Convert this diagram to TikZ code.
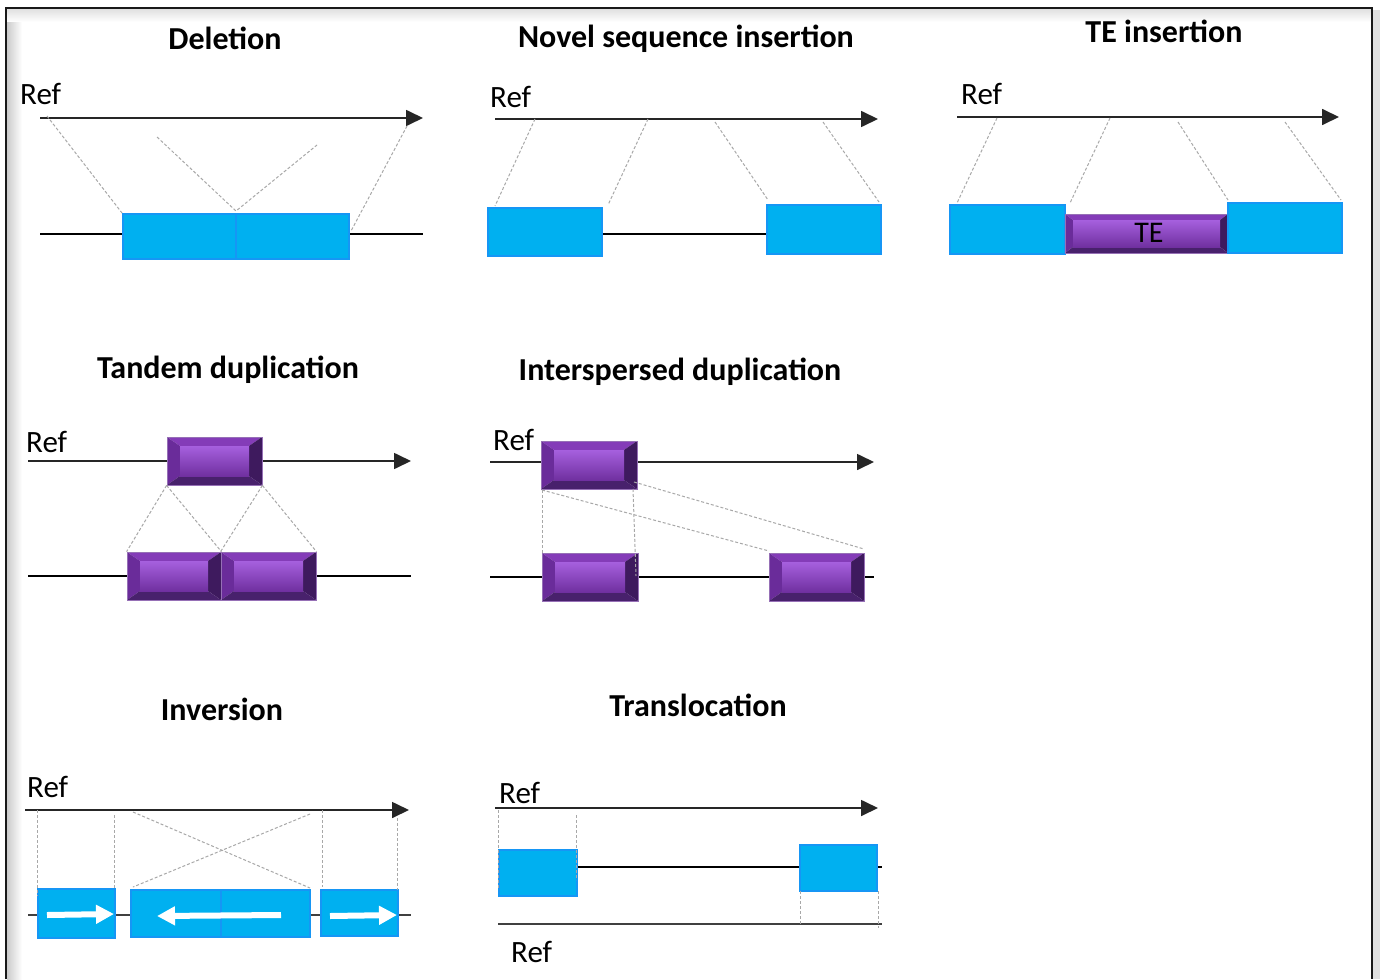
\documentclass[tikz,border=0pt]{standalone}
\usepackage{fontspec}
\setmainfont{Carlito}
\usetikzlibrary{arrows.meta}

\definecolor{boxblue}{RGB}{0,176,240}
\definecolor{boxedge}{RGB}{22,150,245}
\definecolor{dashgray}{RGB}{168,168,168}
\definecolor{bvtop}{RGB}{132,60,184}
\definecolor{bvleft}{RGB}{106,44,154}
\definecolor{bvright}{RGB}{62,26,94}
\definecolor{bvbottom}{RGB}{72,33,108}
\definecolor{bvhi}{RGB}{166,96,222}
\definecolor{bvmid}{RGB}{124,54,176}
\definecolor{bvlow}{RGB}{112,48,160}
\definecolor{bvedge}{RGB}{150,112,182}

\tikzset{
  title/.style={font=\fontsize{32}{38}\selectfont\bfseries, anchor=base, inner sep=0pt},
  reflabel/.style={font=\fontsize{31}{37}\selectfont, anchor=base west, inner sep=0pt},
  refline/.style={draw=black!85, line width=1.7pt, -{Triangle[length=17pt,width=16pt]}},
  seqline/.style={draw=black, line width=1.4pt},
  guide/.style={draw=dashgray, line width=1pt, dash pattern=on 3pt off 2pt},
  bluebox/.style={rectangle, inner sep=0pt, fill=boxblue, draw=boxedge, line width=1.8pt},
  whitearrow/.style={draw=white, line width=6pt, -{Triangle[length=18pt,width=18pt]}},
  bevelbox/.style 2 args={rectangle, inner sep=0pt, draw=bvedge, line width=0.8pt,
    path picture={
      \fill[bvtop] (path picture bounding box.north west) -- (path picture bounding box.north east)
        -- ([shift={(-#1pt,-#2pt)}]path picture bounding box.north east)
        -- ([shift={(#1pt,-#2pt)}]path picture bounding box.north west) -- cycle;
      \fill[bvleft] (path picture bounding box.north west)
        -- ([shift={(#1pt,-#2pt)}]path picture bounding box.north west)
        -- ([shift={(#1pt,#2pt)}]path picture bounding box.south west)
        -- (path picture bounding box.south west) -- cycle;
      \fill[bvright] (path picture bounding box.north east)
        -- ([shift={(-#1pt,-#2pt)}]path picture bounding box.north east)
        -- ([shift={(-#1pt,#2pt)}]path picture bounding box.south east)
        -- (path picture bounding box.south east) -- cycle;
      \fill[bvbottom] (path picture bounding box.south west)
        -- ([shift={(#1pt,#2pt)}]path picture bounding box.south west)
        -- ([shift={(-#1pt,#2pt)}]path picture bounding box.south east)
        -- (path picture bounding box.south east) -- cycle;
      \shade[top color=bvhi, middle color=bvmid, bottom color=bvlow]
        ([shift={(#1pt,-#2pt)}]path picture bounding box.north west)
        rectangle ([shift={(-#1pt,#2pt)}]path picture bounding box.south east);
    }},
}

\begin{document}
\begin{tikzpicture}[x=1pt,y=-1pt]
\useasboundingbox (0,0) rectangle (1380,979);
\fill[white] (0,0) rectangle (1380,979);

% frame with soft inner shadow
\fill[black!12] (1373,10) rectangle (1380,979);
\shade[left color=black!20, right color=white] (7,9) rectangle (22,979);
\shade[top color=black!12, bottom color=white] (7,9) rectangle (1371,22);
\draw[line width=2.6pt, black!90] (6,979) -- (6,8) -- (1372,8) -- (1372,979);

% ---------------- Deletion ----------------
\node[title] (tdel) at (225,50) {Deletion};
\node[reflabel] (rdel) at (20,105) {Ref};
\coordinate (dA) at (40,118); \coordinate (dB) at (423,118);
\coordinate (dL) at (40,234); \coordinate (dR) at (423,234);
\draw[refline] (dA) -- (dB);
\draw[seqline] (dL) -- (dR);
\node[bluebox, minimum width=113pt, minimum height=45pt] (d1) at (179.5,236.5) {};
\node[bluebox, minimum width=113pt, minimum height=45pt] (d2) at (292.5,236.5) {};
\coordinate (dq1) at (47,116); \coordinate (dq2) at (157,137);
\coordinate (dq3) at (317,145); \coordinate (dq4) at (407,126);
\coordinate (dm) at (236,211); \coordinate (dq5) at (351,231);
\draw[guide] (dq1) -- (d1.north west);
\draw[guide] (dq2) -- (dm) -- (dq3);
\draw[guide] (dq4) -- (dq5);

% ---------------- Novel sequence insertion ----------------
\node[title] (tnov) at (686,48) {Novel sequence insertion};
\node[reflabel] (rnov) at (490,108) {Ref};
\coordinate (nA) at (495,119); \coordinate (nB) at (878,119);
\coordinate (nL) at (602,234); \coordinate (nR) at (767,234);
\draw[refline] (nA) -- (nB);
\draw[seqline] (nL) -- (nR);
\node[bluebox, minimum width=114pt, minimum height=48pt] (n1) at (545,232) {};
\node[bluebox, minimum width=114pt, minimum height=49pt] (n2) at (824,229.5) {};
\coordinate (na1) at (535,119); \coordinate (nb1) at (495,206);
\coordinate (na2) at (648,119); \coordinate (nb2) at (608,205);
\coordinate (na3) at (715,122); \coordinate (nb3) at (768,200);
\coordinate (na4) at (823,122); \coordinate (nb4) at (879,202);
\draw[guide] (na1) -- (nb1);
\draw[guide] (na2) -- (nb2);
\draw[guide] (na3) -- (nb3);
\draw[guide] (na4) -- (nb4);

% ---------------- TE insertion ----------------
\node[title] (tte) at (1164,43) {TE insertion};
\node[reflabel] (rte) at (961,105) {Ref};
\coordinate (tA) at (957,117); \coordinate (tB) at (1339,117);
\draw[refline] (tA) -- (tB);
\node[bluebox, minimum width=115pt, minimum height=49pt] (t1) at (1007.5,229.5) {};
\node[bevelbox={8}{6}, minimum width=163pt, minimum height=39pt] (te) at (1146.5,233.5) {};
\node[bluebox, minimum width=114pt, minimum height=50pt] (t2) at (1285,228) {};
\node[font=\fontsize{30}{36}\selectfont, anchor=base, inner sep=0pt] (tel) at (1149,242) {TE};
\coordinate (ta1) at (997,118); \coordinate (tb1) at (957,203);
\coordinate (ta2) at (1110,118); \coordinate (tb2) at (1070,203);
\coordinate (ta3) at (1178,122); \coordinate (tb3) at (1228,200);
\coordinate (ta4) at (1285,122); \coordinate (tb4) at (1341,200);
\draw[guide] (ta1) -- (tb1);
\draw[guide] (ta2) -- (tb2);
\draw[guide] (ta3) -- (tb3);
\draw[guide] (ta4) -- (tb4);

% ---------------- Tandem duplication ----------------
\node[title] (ttan) at (228,378) {Tandem duplication};
\node[reflabel] (rtan) at (26,452) {Ref};
\coordinate (uA) at (28,461); \coordinate (uB) at (411,461);
\coordinate (uL) at (28,576); \coordinate (uR) at (411,576);
\draw[refline] (uA) -- (uB);
\draw[seqline] (uL) -- (uR);
\node[bevelbox={13}{9}, minimum width=95pt, minimum height=48pt] (td0) at (214.5,461) {};
\node[bevelbox={13}{9}, minimum width=94pt, minimum height=48pt] (td1) at (174,576) {};
\node[bevelbox={13}{9}, minimum width=95pt, minimum height=48pt] (td2) at (268.5,576) {};
\draw[guide] (td0.south west) -- (td1.north west);
\draw[guide] (td0.south west) -- (td1.north east);
\draw[guide] (td0.south east) -- (td2.north west);
\draw[guide] (td0.south east) -- (td2.north east);

% ---------------- Interspersed duplication ----------------
\node[title] (tint) at (680,380) {Interspersed duplication};
\node[reflabel] (rint) at (493,450) {Ref};
\coordinate (iA) at (490,462); \coordinate (iB) at (874,462);
\coordinate (iL) at (490,577); \coordinate (iR) at (874,577);
\draw[refline] (iA) -- (iB);
\draw[seqline] (iL) -- (iR);
\node[bevelbox={13}{9}, minimum width=96pt, minimum height=48pt] (id0) at (589,465) {};
\node[bevelbox={13}{9}, minimum width=96pt, minimum height=48pt] (id1) at (590,577) {};
\node[bevelbox={13}{9}, minimum width=95pt, minimum height=48pt] (id2) at (816.5,577) {};
\coordinate (ia1) at (542,490); \coordinate (ib1) at (542,553);
\coordinate (ia2) at (633,489); \coordinate (ib2) at (636,576);
\coordinate (ib3) at (769,551);
\coordinate (ia4) at (634,482); \coordinate (ib4) at (864,549);
\draw[guide] (ia1) -- (ib1);
\draw[guide] (ia2) -- (ib2);
\draw[guide] (ia1) -- (ib3);
\draw[guide] (ia4) -- (ib4);

% ---------------- Inversion ----------------
\node[title] (tinv) at (222,720) {Inversion};
\node[reflabel] (rinv) at (27,797) {Ref};
\coordinate (vA) at (25,810); \coordinate (vB) at (409,810);
\coordinate (vL) at (28,915); \coordinate (vR) at (411,915);
\draw[refline] (vA) -- (vB);
\draw[seqline, line width=1.2pt, black!75] (vL) -- (vR);
\node[bluebox, minimum width=77pt, minimum height=49pt] (v1) at (76.5,913.5) {};
\node[bluebox, minimum width=90pt, minimum height=47pt] (v2) at (176,913.5) {};
\node[bluebox, minimum width=89pt, minimum height=47pt] (v3) at (265.5,913.5) {};
\node[bluebox, minimum width=77pt, minimum height=46pt] (v4) at (359.5,913) {};
\coordinate (wa1) at (47,915); \coordinate (wb1) at (114,914);
\coordinate (wa2) at (281,915); \coordinate (wb2) at (157,916);
\coordinate (wa3) at (330,916); \coordinate (wb3) at (397,915);
\draw[whitearrow] (wa1) -- (wb1);
\draw[whitearrow] (wa2) -- (wb2);
\draw[whitearrow] (wa3) -- (wb3);
\coordinate (va1) at (37,810); \coordinate (vb1) at (37,896);
\coordinate (va2) at (114,815); \coordinate (vb2) at (114,889);
\coordinate (va3) at (133,812); \coordinate (vb3) at (310,888);
\coordinate (va4) at (310,814); \coordinate (vb4) at (133,887);
\coordinate (va5) at (322,810); \coordinate (vb5) at (322,887);
\coordinate (va6) at (397,818); \coordinate (vb6) at (397,890);
\draw[guide] (va1) -- (vb1);
\draw[guide] (va2) -- (vb2);
\draw[guide] (va3) -- (vb3);
\draw[guide] (va4) -- (vb4);
\draw[guide] (va5) -- (vb5);
\draw[guide] (va6) -- (vb6);

% ---------------- Translocation ----------------
\node[title] (ttra) at (698,716) {Translocation};
\node[reflabel] (rtra1) at (499,803) {Ref};
\node[reflabel] (rtra2) at (511,962) {Ref};
\coordinate (rA) at (495,808); \coordinate (rB) at (878,808);
\coordinate (rM) at (882,867);
\coordinate (rL) at (498,924); \coordinate (rR) at (882,924);
\draw[refline] (rA) -- (rB);
\draw[seqline, line width=1.2pt, black!75] (rL) -- (rR);
\node[bluebox, minimum width=78pt, minimum height=46pt] (r1) at (538,873) {};
\draw[seqline] (r1.east |- rM) -- (rM);
\node[bluebox, minimum width=77pt, minimum height=46pt] (r2) at (838.5,868) {};
\coordinate (ra1) at (498,810); \coordinate (rb1) at (498,888);
\coordinate (ra2) at (576,815); \coordinate (rb2) at (576,880);
\coordinate (ra3) at (800,891); \coordinate (rb3) at (800,925);
\coordinate (ra4) at (878,891); \coordinate (rb4) at (878,928);
\draw[guide] (ra1) -- (rb1);
\draw[guide] (ra2) -- (rb2);
\draw[guide] (ra3) -- (rb3);
\draw[guide] (ra4) -- (rb4);
\end{tikzpicture}
\end{document}
